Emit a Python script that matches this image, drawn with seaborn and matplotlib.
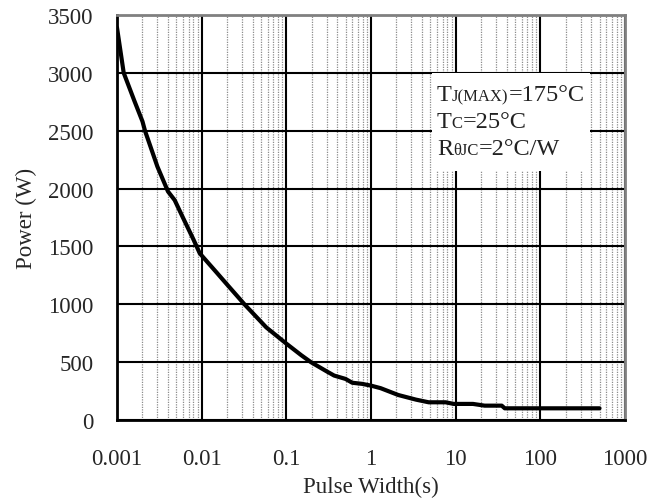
import pandas as pd
import matplotlib
matplotlib.use("Agg")
import matplotlib.pyplot as plt
import seaborn as sns
from matplotlib.patches import Rectangle
from matplotlib.offsetbox import TextArea, HPacker, VPacker, AnchoredOffsetbox

# Set the style for seaborn, then the fonts
sns.set_style("white")
plt.rcParams['font.family'] = ['Liberation Serif', 'DejaVu Serif']

# Curve (pulse width in s, power in W)
pulse_width = [0.001, 0.0012, 0.0016, 0.002, 0.00214, 0.003, 0.004, 0.0048, 0.006, 0.008,
               0.0095, 0.015, 0.02, 0.032, 0.04, 0.058, 0.1, 0.15, 0.195, 0.3,
               0.367, 0.5, 0.6, 0.79, 1.0, 1.3, 2.1, 3.4, 4.8, 7.6,
               9.5, 16, 22, 35, 38, 100, 500]
power = [3390, 3000, 2760, 2580, 2500, 2190, 1975, 1900, 1750, 1560,
         1440, 1275, 1170, 1000, 925, 800, 660, 560, 500, 420,
         384, 355, 322, 312, 297, 275, 216, 176, 153, 153,
         139, 139, 124, 124, 101, 101, 101]

x_ticks = [0.001, 0.01, 0.1, 1, 10, 100, 1000]
x_tick_labels = ['0.001', '0.01', '0.1', '1', '10', '100', '1000']
y_ticks = [0, 500, 1000, 1500, 2000, 2500, 3000, 3500]

df = pd.DataFrame({'Pulse Width': pulse_width, 'Power': power})

fig = plt.figure(figsize=(6.62, 5.02), dpi=100)
ax = fig.add_axes([117 / 662, 81 / 502, 508 / 662, 405 / 502])

sns.lineplot(data=df, x='Pulse Width', y='Power', color='black', linewidth=3,
             ax=ax, zorder=3)

ax.set_xscale('log')
ax.set_xlim(0.001, 1000)
ax.set_ylim(0, 3500)
ax.set_xticks(x_ticks)
ax.set_xticklabels(x_tick_labels)
ax.set_yticks(y_ticks)
ax.tick_params(axis='both', which='both', length=0, labelsize=16.5)
ax.tick_params(axis='x', pad=20)
ax.tick_params(axis='y', pad=17)

# Grid: solid black decades, dotted grey minor lines
ax.grid(True, which='major', color='black', linewidth=1.5, linestyle='-')
ax.grid(True, which='minor', axis='x', color='#8c8c8c', linewidth=0.9, linestyle=(0, (1, 1)))
ax.set_axisbelow(True)

for side in ['left', 'bottom']:
    ax.spines[side].set_color('black')
    ax.spines[side].set_linewidth(2)
for side in ['top', 'right']:
    ax.spines[side].set_color('#808080')
    ax.spines[side].set_linewidth(2)

ax.set_xlabel('Pulse Width(s)', fontsize=16.5, labelpad=5)
ax.set_ylabel('Power (W)', fontsize=16.5, labelpad=8)

# White box behind the conditions text
ax.add_patch(Rectangle((432 / 662, 1 - 172 / 502), 158 / 662, 98 / 502,
                       transform=fig.transFigure, facecolor='white',
                       edgecolor='none', zorder=4))


# Conditions text with small-caps style subscripts
def line(parts):
    return HPacker(children=[TextArea(t, textprops=dict(size=s, color='#222222'))
                             for t, s in parts],
                   align='baseline', pad=0, sep=0)


box = VPacker(children=[
    line([('T', 17.5), ('J(MAX)', 12), ('=175°C', 17.5)]),
    line([('T', 17.5), ('C', 12), ('=25°C', 17.5)]),
    line([('R', 17.5), ('θJC', 12), ('=2°C/W', 17.5)]),
], align='left', pad=0, sep=4.5)

anchored = AnchoredOffsetbox(loc='upper left', child=box, pad=0, borderpad=0,
                             frameon=False, bbox_to_anchor=(437 / 662, 1 - 85 / 502),
                             bbox_transform=fig.transFigure)
anchored.set_zorder(5)
ax.add_artist(anchored)

plt.savefig("out.png", dpi=100)
